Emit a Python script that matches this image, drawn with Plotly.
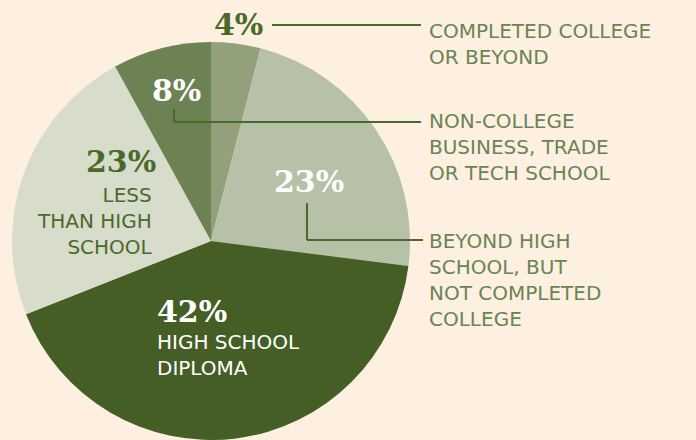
import plotly.graph_objects as go

W, H = 696, 440

categories = ["Completed college or beyond",
              "Beyond high school, but not completed college",
              "High school diploma",
              "Less than high school",
              "Non-college business, trade or tech school"]
values = [4, 23, 42, 23, 8]
pct_labels = ["4%", "23%", "42%", "23%", "8%"]
slice_colors = ["#93a07c", "#b6c1a8", "#445e26", "#d7dccb", "#6d8253"]

BG = "#fdf0e1"
DARK = "#4a6a2b"
LABEL = "#6a8454"

fig = go.Figure(go.Pie(
    labels=categories, values=values, sort=False, direction="clockwise",
    rotation=0, textinfo="none", hoverinfo="skip", showlegend=False,
    marker=dict(colors=slice_colors, line=dict(width=0)),
    domain=dict(x=[12 / W, 410 / W], y=[0, 1 - 42 / H]),
))

def px(x):
    return x / W

def py(y):
    return 1 - y / H

PCT_FONT = "DejaVu Serif"
SANS = "DejaVu Sans"

ann = []
def pct(text, x, y_base, color, xanchor="left"):
    ann.append(dict(text=f"<b>{text}</b>", x=px(x), y=py(y_base), xref="paper", yref="paper",
                    xanchor=xanchor, yanchor="bottom", showarrow=False,
                    font=dict(family=PCT_FONT, size=30, color=color), borderpad=0, yshift=-7))

def lab(text, x, y_top, color, xanchor="left", align="left"):
    ann.append(dict(text=text, x=px(x), y=py(y_top), xref="paper", yref="paper",
                    xanchor=xanchor, yanchor="top", showarrow=False, align=align,
                    font=dict(family=SANS, size=20, color=color), borderpad=0, yshift=5))

pct(pct_labels[0], 213, 36, DARK)
pct(pct_labels[1], 273, 193, "#ffffff")
pct(pct_labels[2], 156, 323, "#ffffff")
pct(pct_labels[3], 157, 173, DARK, xanchor="right")
pct(pct_labels[4], 151, 102, "#ffffff")

lab("COMPLETED COLLEGE<br>OR BEYOND", 428, 23, LABEL)
lab("NON-COLLEGE<br>BUSINESS, TRADE<br>OR TECH SCHOOL", 428, 113, LABEL)
lab("BEYOND HIGH<br>SCHOOL, BUT<br>NOT COMPLETED<br>COLLEGE", 428, 233, LABEL)
lab("LESS<br>THAN HIGH<br>SCHOOL", 154, 187, DARK, xanchor="right", align="right")
lab("HIGH SCHOOL<br>DIPLOMA", 156, 334, "#ffffff")

shapes = []
def seg(x0, y0, x1, y1):
    shapes.append(dict(type="line", xref="paper", yref="paper",
                       x0=px(x0), y0=py(y0), x1=px(x1), y1=py(y1),
                       line=dict(color=DARK, width=2)))

seg(272, 25, 421, 25)
seg(174, 109, 174, 122)
seg(174, 122, 421, 122)
seg(307, 203, 307, 240)
seg(307, 240, 423, 240)

fig.update_layout(width=W, height=H, margin=dict(l=0, r=0, t=0, b=0),
                  paper_bgcolor=BG, plot_bgcolor=BG,
                  annotations=ann, shapes=shapes)

fig.write_html("out.html", config={"displayModeBar": False, "staticPlot": True},
               post_script="document.body.style.margin='0';document.body.style.overflow='hidden';")
